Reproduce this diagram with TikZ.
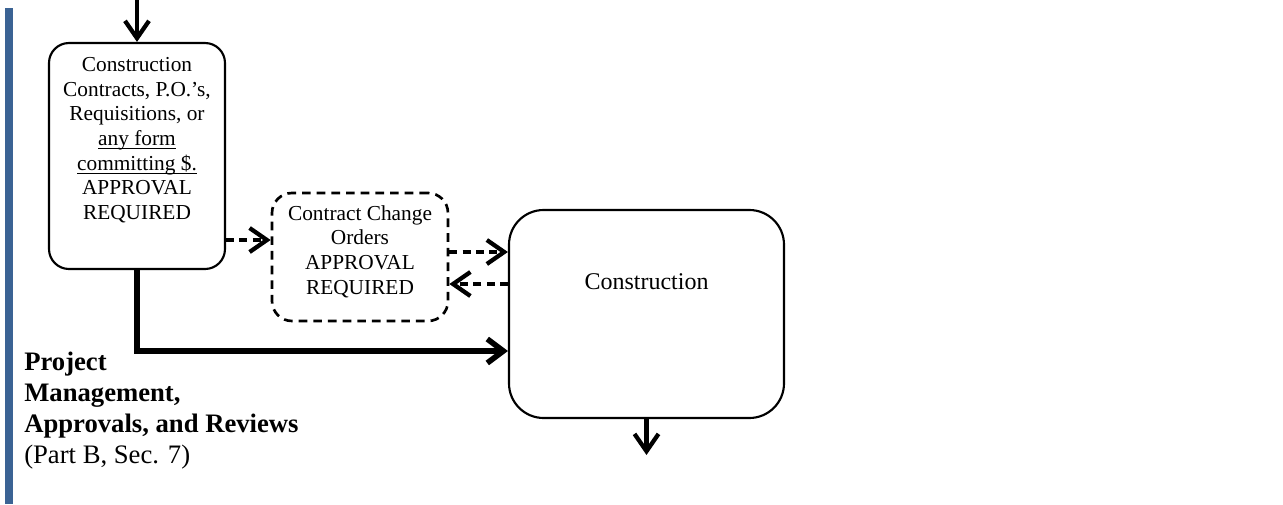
\documentclass[tikz,border=0pt]{standalone}
\usepackage{fontspec}
\setmainfont{Liberation Serif}
\usetikzlibrary{arrows.meta}
\definecolor{barblue}{RGB}{59,99,148}
% underline drawn close to the baseline
\newcommand{\ulin}[1]{\setbox0\hbox{#1}\rlap{\rule[-2.6pt]{\wd0}{0.75pt}}\box0}
\tikzset{
  procbox/.style={draw, line width=1.6pt, rounded corners=15pt, fill=white},
  dashbox/.style={draw, line width=2pt, rounded corners=15pt, dash pattern=on 6.5pt off 4.5pt},
  flow/.style={line width=3.2pt, -{Straight Barb[length=13pt,width=18pt]}},
  dflow/.style={flow, dash pattern=on 6pt off 4pt},
  bigflow/.style={line width=4.2pt, -{Straight Barb[length=12pt,width=18pt]}},
  txt/.style={align=center, font=\fontsize{16}{18.5}\selectfont, inner sep=0pt},
}
\begin{document}
\begin{tikzpicture}[x=0.75pt,y=-0.75pt]
\useasboundingbox (0,0) rectangle (1283,504);
% side bar
\fill[barblue] (5,8) rectangle (12.5,504);

% boxes
\node[procbox, minimum width=176*0.75pt, minimum height=226*0.75pt] (contracts) at (137,156) {};
\node[txt, anchor=north] (contractsT) at (137,57) {Construction\\Contracts, P.O.’s,\\Requisitions, or\\\ulin{any form}\\\ulin{committing \$.}\\APPROVAL\\REQUIRED};

\node[dashbox, minimum width=176*0.75pt, minimum height=128*0.75pt] (change) at (360,257) {};
\node[txt, anchor=north] (changeT) at (360,205) {Contract Change\\Orders\\APPROVAL\\REQUIRED};

\node[procbox, rounded corners=26pt, minimum width=275*0.75pt, minimum height=208*0.75pt] (constr) at (646.5,314) {};
\node[txt, font=\fontsize{18}{21}\selectfont] (constrT) at (646.5,282) {Construction};

% caption
\node[anchor=north west, align=left, inner sep=0pt, font=\fontsize{20}{23.25}\selectfont] (caption) at (24,352)
  {\textbf{Project}\\\textbf{Management,}\\\textbf{Approvals, and Reviews}\\(Part B, Sec. 7)};

% connectors
\coordinate (topin) at (137,0);
\coordinate (bottomout) at (646.5,455);
\draw[flow] (topin) -- (contracts.north);
\draw[flow] (constr.south) -- (bottomout);
\draw[dflow] (contracts.east |- 0,240) -- (change.west |- 0,240);
\draw[dflow] (change.east |- 0,252) -- (constr.west |- 0,252);
\draw[dflow] (constr.west |- 0,284) -- (change.east |- 0,284);
\draw[bigflow] (contracts.south) |- (constr.west |- 0,351);
\end{tikzpicture}
\end{document}
